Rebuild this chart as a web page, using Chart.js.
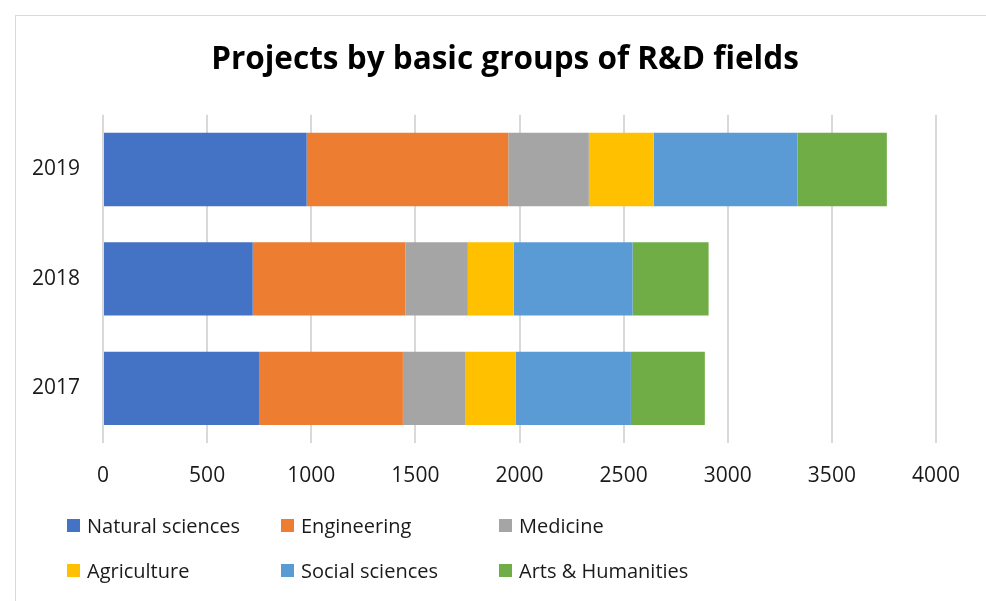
<!DOCTYPE html>
<html>
<head>
<meta charset="UTF-8">
<title>Projects by basic groups of R&amp;D fields</title>
<script src="https://cdn.jsdelivr.net/npm/chart.js"></script>
<style>
  body { margin: 0; background: #fff; }
  #wrap { position: relative; width: 986px; height: 601px; overflow: hidden; }
  #frame { position: absolute; left: 15px; top: 15px; width: 1000px; height: 700px;
           border-top: 1px solid #d9d9d9; border-left: 1px solid #d9d9d9; }
  canvas { position: absolute; left: 0; top: 0; }
  .lg { position: absolute; font-family: "Open Sans", sans-serif; font-size: 20px; color: #1a1a1a;
        display: flex; align-items: center; white-space: nowrap; }
  .lg span.box { display: inline-block; width: 13px; height: 13px; margin-right: 7px; }
</style>
</head>
<body>
<div id="wrap">
  <div id="frame"></div>
  <canvas id="chart" width="986" height="601"></canvas>
</div>

<script>
// categories, top to bottom
const years = ['2019', '2018', '2017'];

// projects per field
const fields = ['Natural sciences', 'Engineering', 'Medicine', 'Agriculture', 'Social sciences', 'Arts & Humanities'];
const naturalSciences = [978, 719, 749];
const engineering     = [968, 733, 691];
const medicine        = [387, 300, 301];
const agriculture     = [311, 220, 240];
const socialSciences  = [691, 571, 554];
const artsHumanities  = [429, 365, 355];

const xTicks = [0, 500, 1000, 1500, 2000, 2500, 3000, 3500, 4000];

const colores = ['#4472C4', '#ED7D31', '#A5A5A5', '#FFC000', '#5B9BD5', '#70AD47'];
const series = [naturalSciences, engineering, medicine, agriculture, socialSciences, artsHumanities];

const ctx = document.getElementById('chart');

const chart = new Chart(ctx, {
  type: 'bar',
  data: {
    labels: years,
    datasets: series.map((d, i) => ({
      label: fields[i],
      data: d,
      backgroundColor: colores[i],
      borderWidth: 0,
      categoryPercentage: 1,
      barPercentage: 0.67
    }))
  },
  options: {
    indexAxis: 'y',
    responsive: false,
    animation: false,
    layout: { padding: { left: 24, right: 0, top: 0, bottom: 0 } },
    plugins: {
      legend: { display: false },
      tooltip: { enabled: false },
      title: {
        display: true,
        text: 'Projects by basic groups of R&D fields',
        color: '#000',
        font: { family: 'Open Sans', size: 31.5, weight: 'bold', lineHeight: 1.2 },
        padding: { top: 41, bottom: 36 }
      }
    },
    scales: {
      x: {
        stacked: true,
        min: 0,
        max: 4000,
        afterBuildTicks: (s) => { s.ticks = xTicks.map(v => ({ value: v })); },
        afterFit: (s) => { s.height = 158; },
        grid: { color: '#d9d9d9', lineWidth: 2, drawTicks: false },
        border: { display: false },
        ticks: {
          color: '#1a1a1a', padding: 20,
          font: { family: 'Open Sans', size: 21 },
          callback: (v) => String(v)
        }
      },
      y: {
        stacked: true,
        afterFit: (s) => { s.width = 79; },
        grid: { display: false, drawTicks: false },
        border: { display: false },
        ticks: { color: '#1a1a1a', padding: 23, font: { family: 'Open Sans', size: 21 } }
      },
      // empty axis on the right, only keeps space after the plot
      yRight: {
        type: 'category',
        position: 'right',
        afterFit: (s) => { s.width = 50; },
        grid: { display: false, drawTicks: false },
        border: { display: false },
        ticks: { display: false }
      }
    }
  }
});

// legend in two rows of three, built from the same arrays
const wrap = document.getElementById('wrap');
const colX = [67, 281, 499];
const rowY = [525, 570];
fields.forEach((f, i) => {
  const el = document.createElement('div');
  el.className = 'lg';
  el.style.left = colX[i % 3] + 'px';
  el.style.top = (rowY[Math.floor(i / 3)] - 14) + 'px';
  el.style.height = '28px';
  el.innerHTML = '<span class="box" style="background:' + colores[i] + '"></span>';
  el.appendChild(document.createTextNode(f));
  wrap.appendChild(el);
});
</script>
</body>
</html>
